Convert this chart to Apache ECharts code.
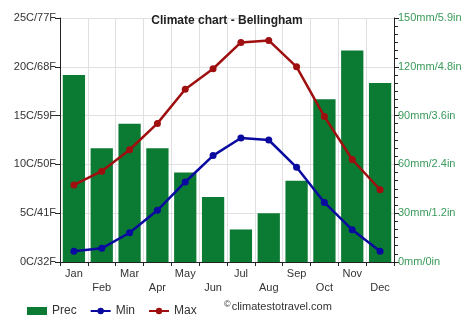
<!DOCTYPE html>
<html>
<head>
<meta charset="utf-8">
<script src="https://cdn.jsdelivr.net/npm/echarts@6/dist/echarts.min.js"></script>
<style>
  html, body { margin: 0; padding: 0; background: #fff; }
  #chart { width: 474px; height: 331px; }
</style>
</head>
<body>
<div id="chart"></div>
<script>
// Monthly climate data for Bellingham
const months = ['Jan', 'Feb', 'Mar', 'Apr', 'May', 'Jun', 'Jul', 'Aug', 'Sep', 'Oct', 'Nov', 'Dec'];
const precMm = [115, 70, 85, 70, 55, 40, 20, 30, 50, 100, 130, 110];
const minTemp = [1.1, 1.4, 3.0, 5.3, 8.2, 10.9, 12.7, 12.5, 9.7, 6.1, 3.3, 1.1];
const maxTemp = [7.9, 9.3, 11.5, 14.2, 17.7, 19.8, 22.5, 22.7, 20.0, 14.9, 10.5, 7.4];
const tempTickLabels = ['0C/32F', '5C/41F', '10C/50F', '15C/59F', '20C/68F', '25C/77F'];
const precTickLabels = ['0mm/0in', '30mm/1.2in', '60mm/2.4in', '90mm/3.6in', '120mm/4.8in', '150mm/5.9in'];

const FONT = '"Liberation Sans", Arial, sans-serif';
const chart = echarts.init(document.getElementById('chart'));

chart.setOption({
  animation: false,
  title: {
    text: 'Climate chart - Bellingham',
    left: 222,
    textAlign: 'center',
    top: 10,
    textStyle: { fontFamily: FONT, fontSize: 12, fontWeight: 'bold', color: '#222' }
  },
  grid: { left: 60, right: 80, top: 18, bottom: 69 },
  legend: {
    left: 22,
    top: 300,
    itemGap: 13,
    itemWidth: 20,
    itemHeight: 8,
    textStyle: { fontFamily: FONT, fontSize: 12, color: '#333' },
    data: [
      { name: 'Prec', icon: 'rect' },
      { name: 'Min' },
      { name: 'Max' }
    ]
  },
  graphic: [{
    type: 'text',
    left: 224,
    top: 300,
    style: {
      text: '{c|©}{t|climatestotravel.com}',
      rich: {
        c: { fontFamily: FONT, fontSize: 9, fill: '#333', verticalAlign: 'top', padding: [0, 1, 4, 0] },
        t: { fontFamily: FONT, fontSize: 11, fill: '#333' }
      }
    }
  }],
  xAxis: {
    type: 'category',
    data: months,
    boundaryGap: true,
    axisLine: { show: true, lineStyle: { color: '#222', width: 1 } },
    axisTick: { show: true, alignWithLabel: false, length: 4, lineStyle: { color: '#222' } },
    splitLine: { show: true, lineStyle: { color: '#e0e0e0' } },
    axisLabel: {
      interval: 0,
      margin: 5,
      fontFamily: FONT, fontSize: 11, color: '#333', lineHeight: 14,
      formatter: (v, i) => (i % 2 === 1 ? '\n' + v : v)
    }
  },
  yAxis: [
    {
      type: 'value',
      min: 0, max: 25, interval: 5,
      position: 'left',
      axisLine: { show: true, lineStyle: { color: '#222' } },
      axisTick: { show: true, length: 5, lineStyle: { color: '#222' } },
      splitLine: { show: true, lineStyle: { color: '#e0e0e0' } },
      axisLabel: {
        fontFamily: FONT, fontSize: 11, color: '#333', margin: 4,
        formatter: (v) => tempTickLabels[Math.round(v / 5)]
      }
    },
    {
      type: 'value',
      min: 0, max: 150, interval: 30,
      position: 'right',
      axisLine: { show: true, lineStyle: { color: '#222' } },
      axisTick: { show: true, length: 5, inside: false, lineStyle: { color: '#222' } },
      minorTick: { show: true, splitNumber: 6, length: 4, lineStyle: { color: '#222' } },
      splitLine: { show: false },
      axisLabel: {
        fontFamily: FONT, fontSize: 11, color: '#3a9a5a', margin: 4,
        formatter: (v) => precTickLabels[Math.round(v / 30)]
      }
    }
  ],
  series: [
    {
      name: 'Prec',
      type: 'bar',
      yAxisIndex: 1,
      data: precMm,
      barCategoryGap: '20%',
      itemStyle: { color: '#0b7a33' },
      z: 1
    },
    {
      name: 'Min',
      type: 'line',
      yAxisIndex: 0,
      data: minTemp,
      smooth: false,
      symbol: 'circle',
      symbolSize: 7,
      lineStyle: { color: '#0a0aa0', width: 2.5 },
      itemStyle: { color: '#0a0aa0' },
      z: 3
    },
    {
      name: 'Max',
      type: 'line',
      yAxisIndex: 0,
      data: maxTemp,
      smooth: false,
      symbol: 'circle',
      symbolSize: 7,
      lineStyle: { color: '#a00f0f', width: 2.5 },
      itemStyle: { color: '#a00f0f' },
      z: 3
    }
  ]
});
</script>
</body>
</html>
